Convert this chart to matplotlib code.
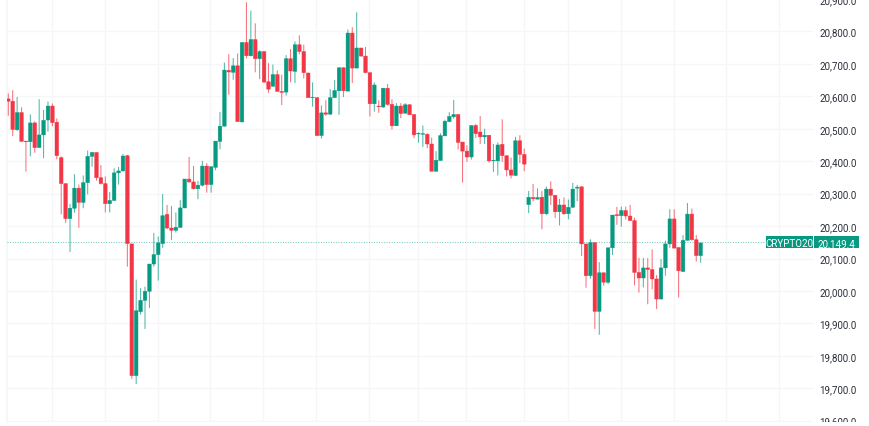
import matplotlib
matplotlib.use("Agg")
import matplotlib.pyplot as plt
from matplotlib.patches import Rectangle
import numpy as np

opens = [20592,20585,20497,20550,20462,20460,20518,20442,20481,20527,20570,20520,20411,20331,20223,20255,20317,20273,20334,20415,
 20427,20349,20331,20269,20279,20364,20370,20417,20145,19739,19936,19971,19999,20083,20112,20146,20236,20194,20187,20196,
 20256,20345,20336,20315,20326,20385,20328,20381,20461,20508,20680,20674,20694,20521,20766,20725,20775,20716,20738,20645,
 20631,20667,20615,20613,20716,20677,20759,20738,20672,20596,20596,20479,20549,20545,20596,20617,20688,20616,20795,20687,
 20749,20724,20673,20577,20570,20567,20625,20575,20509,20570,20548,20574,20544,20484,20483,20483,20453,20369,20402,20478,
 20522,20537,20544,20459,20431,20413,20510,20490,20475,20480,20401,20401,20452,20417,20373,20356,20463,20421,20266,20288,
 20283,20289,20238,20314,20295,20244,20265,20238,20258,20317,20321,20145,20047,20149,19937,20056,20027,20133,20235,20232,
 20248,20231,20217,20057,20040,20071,20066,20037,19975,20071,20145,20222,20134,20060,20156,20237,20158,20109]
highs = [20609,20619,20598,20566,20462,20544,20523,20591,20558,20584,20578,20532,20415,20331,20268,20360,20328,20356,20433,20427,
 20427,20388,20353,20305,20378,20382,20422,20419,20145,20035,20009,20013,20083,20179,20168,20299,20265,20262,20242,20280,
 20345,20413,20385,20339,20401,20394,20383,20462,20552,20704,20730,20718,20732,20766,20890,20864,20825,20742,20738,20702,
 20698,20680,20667,20727,20746,20769,20788,20759,20672,20643,20596,20572,20588,20622,20650,20689,20689,20806,20813,20859,
 20749,20752,20673,20643,20588,20625,20638,20591,20579,20579,20579,20576,20544,20489,20510,20486,20473,20431,20486,20528,
 20551,20589,20544,20459,20449,20510,20515,20539,20500,20480,20453,20458,20529,20417,20411,20475,20480,20439,20308,20330,
 20316,20308,20322,20338,20295,20284,20288,20282,20333,20327,20322,20145,20159,20149,20089,20056,20133,20234,20259,20260,
 20260,20265,20226,20102,20102,20101,20128,20049,20098,20155,20252,20252,20134,20172,20271,20254,20172,20148]
lows = [20540,20478,20493,20461,20368,20415,20426,20442,20409,20491,20508,20406,20236,20210,20120,20241,20195,20255,20298,20383,
 20340,20328,20242,20242,20278,20328,20368,20075,19729,19713,19927,19883,19947,20075,20032,20133,20190,20157,20180,20194,
 20255,20333,20313,20283,20322,20303,20303,20372,20437,20507,20605,20651,20522,20520,20717,20723,20674,20653,20641,20611,
 20630,20615,20573,20602,20643,20641,20730,20655,20595,20568,20479,20470,20540,20543,20596,20543,20598,20616,20641,20687,
 20723,20671,20538,20553,20549,20564,20571,20498,20509,20533,20547,20543,20471,20457,20444,20440,20369,20369,20402,20478,
 20520,20531,20436,20334,20398,20405,20472,20453,20453,20396,20367,20356,20398,20353,20347,20355,20394,20369,20240,20276,
 20283,20190,20234,20265,20225,20202,20234,20221,20256,20277,20108,20010,20038,19883,19865,20016,20021,20111,20204,20198,
 20220,20217,20017,19995,20011,19959,20005,19944,19975,20047,20133,20132,19980,20059,20156,20155,20091,20087]
closes = [20585,20498,20550,20461,20460,20518,20442,20481,20526,20570,20519,20417,20331,20223,20255,20317,20273,20334,20415,20427,
 20349,20331,20269,20279,20364,20370,20416,20146,19739,19939,19971,19999,20083,20112,20148,20232,20194,20187,20196,20256,
 20345,20336,20315,20326,20385,20328,20383,20462,20508,20681,20675,20694,20522,20766,20725,20775,20716,20738,20644,20622,
 20667,20615,20612,20716,20678,20759,20738,20673,20596,20597,20479,20549,20545,20596,20618,20688,20617,20795,20687,20749,
 20724,20673,20577,20635,20568,20625,20575,20509,20570,20547,20574,20543,20481,20486,20485,20453,20369,20403,20479,20523,
 20538,20544,20458,20431,20413,20510,20485,20475,20480,20401,20403,20450,20417,20373,20357,20463,20421,20391,20289,20284,
 20288,20238,20314,20295,20244,20265,20238,20258,20314,20320,20145,20047,20149,19937,20056,20027,20133,20234,20232,20248,
 20231,20217,20057,20040,20071,20066,20037,19975,20071,20145,20222,20132,20062,20156,20237,20158,20109,20148]

last_price = 20149.4
symbol = "CRYPTO20"
price_ticks = [19600,19700,19800,19900,20000,20100,20200,20300,20400,20500,20600,20700,20800,20900]
time_grid = [10,22,34,46,58,70,82,93,104,117,127,139,151,163,175]

UP, DOWN = "#089981", "#F23645"
GRID = "#f5f6f7"
TXT = "#2a2e39"
FONT = "Roboto"
FS = 7.0
W, H = 870, 427

plt.rcParams["font.family"] = FONT
fig = plt.figure(figsize=(W / 100, H / 100), dpi=100, facecolor="white")
ax = fig.add_axes([7.5 / W, 4 / H, (813 - 7.5) / W, (H - 4) / H])
ax.set_xlim(-0.18, 182.47)
ax.set_ylim(19596, 20899.5)
for s in ax.spines.values():
    s.set_visible(False)

ax.set_axisbelow(True)
ax.set_xticks([t - 0.15 for t in time_grid])
ax.set_yticks(price_ticks)
ax.set_yticklabels([f"{p:,.1f}" for p in price_ticks], fontsize=FS, color=TXT)
ax.yaxis.tick_right()
ax.tick_params(axis="y", length=0, pad=4.6)
ax.tick_params(axis="x", length=0, labelbottom=False)
ax.grid(True, color=GRID, linewidth=1.0)
ax.axvline(-0.18, color=GRID, linewidth=1.2, clip_on=False)

x = np.arange(len(opens))
o, h, l, c = map(np.array, (opens, highs, lows, closes))
colors = [UP if cc >= oo else DOWN for oo, cc in zip(o, c)]

wicks = ax.vlines(x, l, h, colors=colors, linewidth=0.75, alpha=0.7, zorder=3)
wicks.set_snap(False)
bars = ax.bar(x, np.abs(c - o), bottom=np.minimum(o, c), width=0.82, color=colors,
              edgecolor=colors, linewidth=0.3, zorder=4)
for b in bars:
    b.set_snap(False)

ax.axhline(last_price, color=UP, linewidth=0.7, linestyle=(0, (1, 1.6)), alpha=0.6, zorder=2)

# price scale tags
ypx = ax.transData.transform((0, last_price))[1]
def tag(x0, x1):
    fig.add_artist(Rectangle((x0 / W, (ypx - 6.0) / H), (x1 - x0) / W, 12.0 / H,
                             transform=fig.transFigure, facecolor=UP, edgecolor="none", zorder=6))
tag(766, 812.6)
tag(813.6, 858.8)
fig.text(789.3 / W, ypx / H, symbol, color="white", fontsize=FS, ha="center", va="center_baseline", zorder=7)
fig.text(836.5 / W, ypx / H, f"{last_price:,.1f}", color="white", fontsize=FS, ha="center", va="center_baseline", zorder=7)

# chart pane ends just above the image bottom
fig.add_artist(Rectangle((8.2 / W, 0), 1 - 8.2 / W, 4 / H, transform=fig.transFigure,
                         facecolor="white", edgecolor="none", zorder=5))

fig.savefig("out.png", dpi=100, facecolor="white")
